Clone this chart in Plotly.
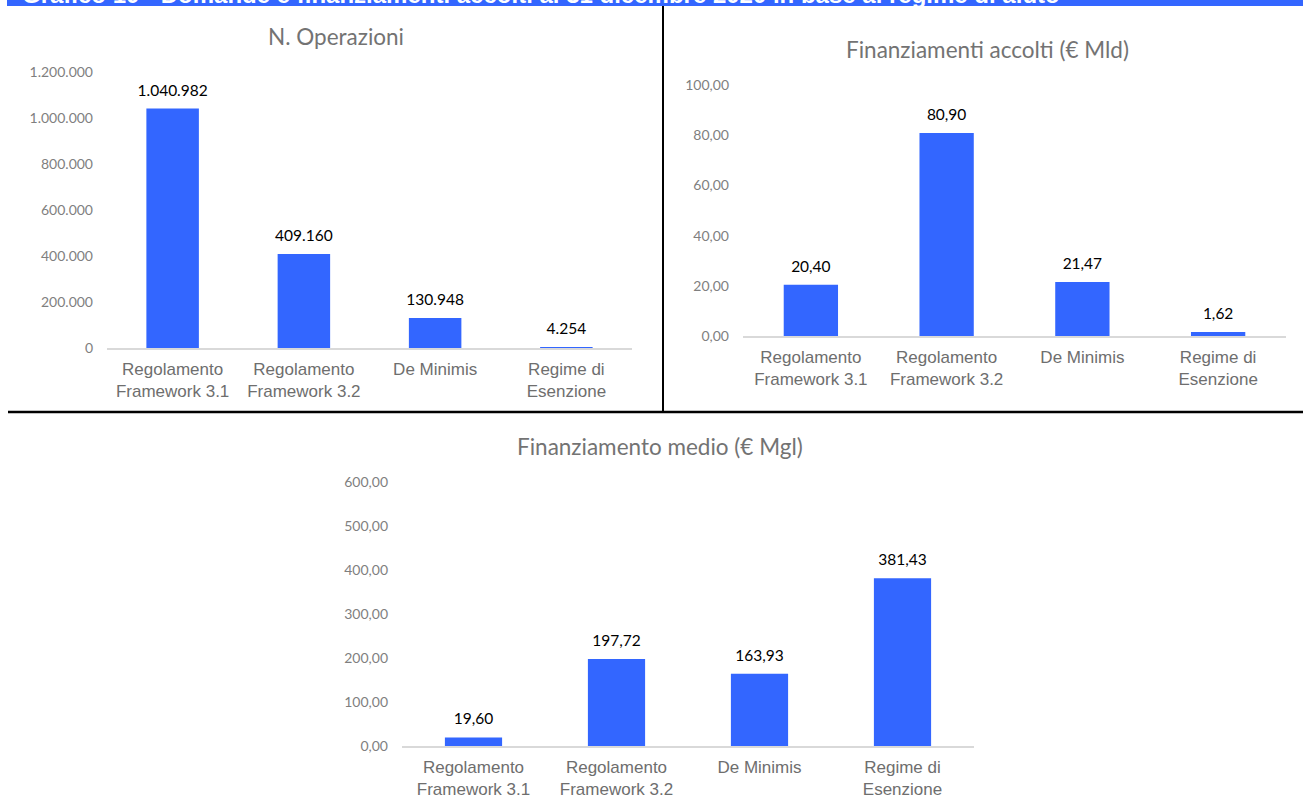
import plotly.graph_objects as go

categories = ["Regolamento<br>Framework 3.1", "Regolamento<br>Framework 3.2", "De Minimis", "Regime di<br>Esenzione"]
operazioni = [1040982, 409160, 130948, 4254]
finanziamenti_mld = [20.40, 80.90, 21.47, 1.62]
medio_mgl = [19.60, 197.72, 163.93, 381.43]

ticks_op = [0, 200000, 400000, 600000, 800000, 1000000, 1200000]
ticks_fin = [0, 20, 40, 60, 80, 100]
ticks_med = [0, 100, 200, 300, 400, 500, 600]

titles = ["N. Operazioni", "Finanziamenti accolti (€ Mld)", "Finanziamento medio (€ Mgl)"]
header = "Grafico 10 - Domande e finanziamenti accolti al 31 dicembre 2020 in base al regime di aiuto"

BLUE = "#3366FF"
GRAY_TICK = "#7F7F7F"
GRAY_CAT = "#6E6E6E"
GRAY_TITLE = "#737373"
W, H = 1303, 807
CAL = "Lato, Open Sans, sans-serif"
ARIAL = "Liberation Sans, Arial, sans-serif"


def fmt_int(v):
    return f"{int(round(v)):,}".replace(",", ".")


def fmt_dec(v):
    s = f"{v:,.2f}"
    return s.replace(",", "X").replace(".", ",").replace("X", ".")


def px_x(p):
    return p / W


def px_y(p):
    return 1 - p / H


fig = go.Figure()

specs = [
    dict(vals=operazioni, fmt=fmt_int, ticks=ticks_op, xa="x", ya="y",
         xdom=(107, 632), ydom=(348, 72), rng=1200000),
    dict(vals=finanziamenti_mld, fmt=fmt_dec, ticks=ticks_fin, xa="x2", ya="y2",
         xdom=(743, 1286), ydom=(336, 85), rng=100),
    dict(vals=medio_mgl, fmt=fmt_dec, ticks=ticks_med, xa="x3", ya="y3",
         xdom=(402, 974), ydom=(746, 482), rng=600),
]

layout = dict(
    width=W, height=H,
    margin=dict(l=0, r=0, t=0, b=0, pad=0, autoexpand=False),
    paper_bgcolor="white", plot_bgcolor="white",
    showlegend=False,
    bargap=0.6,
)

for i, s in enumerate(specs):
    fig.add_trace(go.Bar(
        x=categories, y=s["vals"],
        xaxis=s["xa"], yaxis=s["ya"],
        marker=dict(color=BLUE, line=dict(width=0)),
        hoverinfo="skip",
    ))
    # value labels above the bars
    fig.add_trace(go.Scatter(
        x=categories, y=s["vals"],
        xaxis=s["xa"], yaxis=s["ya"],
        mode="markers+text",
        marker=dict(size=13, opacity=0),
        text=[s["fmt"](v) for v in s["vals"]],
        textposition="top center",
        textfont=dict(family=CAL, size=15.5, color="black"),
        cliponaxis=False,
        hoverinfo="skip",
    ))
    suffix = "" if i == 0 else str(i + 1)
    layout["xaxis" + suffix] = dict(
        domain=[px_x(s["xdom"][0]), px_x(s["xdom"][1])],
        anchor=s["ya"],
        automargin=False,
        showline=True, linecolor="#D9D9D9", linewidth=1.5,
        showgrid=False, zeroline=False,
        ticks="", tickfont=dict(family=ARIAL, size=17, color=GRAY_CAT),
        ticklabelstandoff=5,
        fixedrange=True,
    )
    layout["yaxis" + suffix] = dict(
        domain=[px_y(s["ydom"][0]), px_y(s["ydom"][1])],
        anchor=s["xa"],
        automargin=False,
        range=[0, s["rng"]],
        showline=False, showgrid=False, zeroline=False,
        tickvals=s["ticks"], ticktext=[s["fmt"](t) for t in s["ticks"]],
        tickfont=dict(family=CAL, size=14, color=GRAY_TICK),
        ticks="", ticklabelstandoff=13,
        fixedrange=True,
    )

annotations = [
    dict(text=titles[0], x=px_x(336), y=px_y(37), xref="paper", yref="paper",
         showarrow=False, xanchor="center", yanchor="middle",
         font=dict(family=CAL, size=22.5, color=GRAY_TITLE)),
    dict(text=titles[1], x=px_x(988), y=px_y(49), xref="paper", yref="paper",
         showarrow=False, xanchor="center", yanchor="middle",
         font=dict(family=CAL, size=22.5, color=GRAY_TITLE)),
    dict(text=titles[2], x=px_x(660), y=px_y(446), xref="paper", yref="paper",
         showarrow=False, xanchor="center", yanchor="middle",
         font=dict(family=CAL, size=22.5, color=GRAY_TITLE)),
    dict(text="<b>" + header + "</b>", x=px_x(20), y=px_y(10), xref="paper", yref="paper",
         showarrow=False, xanchor="left", yanchor="bottom",
         font=dict(family=ARIAL, size=24, color="white")),
]

shapes = [
    dict(type="rect", xref="paper", yref="paper", x0=px_x(7), x1=1.01, y0=px_y(6), y1=1.01,
         fillcolor=BLUE, line=dict(width=0), layer="below"),
    dict(type="line", xref="paper", yref="paper", x0=px_x(663), x1=px_x(663), y0=px_y(6), y1=px_y(412),
         line=dict(color="black", width=2)),
    dict(type="line", xref="paper", yref="paper", x0=px_x(8), x1=1.01, y0=px_y(412), y1=px_y(412),
         line=dict(color="black", width=2.5)),
]

layout["annotations"] = annotations
layout["shapes"] = shapes
fig.update_layout(**layout)

page_fix = (
    "var d=document.documentElement, b=document.body;"
    "d.style.margin='0';d.style.padding='0';d.style.overflow='hidden';"
    "b.style.margin='0';b.style.padding='0';b.style.overflow='hidden';"
    "var g=document.getElementById('{plot_id}');"
    "g.style.position='fixed';g.style.left='0px';g.style.top='0px';"
)
fig.write_html("out.html", config={"displayModeBar": False, "staticPlot": True}, post_script=page_fix)
